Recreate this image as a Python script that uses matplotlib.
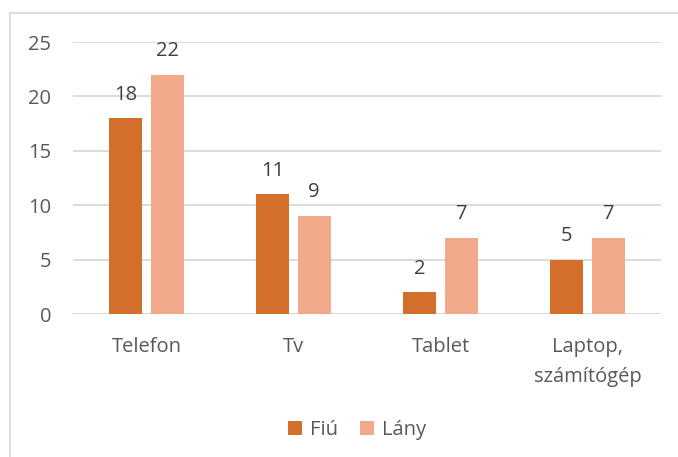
import matplotlib
matplotlib.use("Agg")
from matplotlib import pyplot as plt
from matplotlib.patches import Rectangle
import numpy as np

# data
categories = ["Telefon", "Tv", "Tablet", "Laptop,\nszámítógép"]
fiu = [18, 11, 2, 5]
lany = [22, 9, 7, 7]
series_names = ["Fiú", "Lány"]

col_fiu = "#D46F2B"
col_lany = "#F2A98A"
txt = "#595959"
fs = 14.5

plt.rcParams['font.family'] = ['Open Sans', 'DejaVu Sans']

fig = plt.figure(figsize=(6.78, 4.57), dpi=100)
ax = fig.add_axes([73/678, 1-314/457, (661-73)/678, (314-42)/457])

x = np.arange(len(categories))
w = 0.224
off = 0.141
b1 = ax.bar(x - off, fiu, w, color=col_fiu, label=series_names[0], zorder=3)
b2 = ax.bar(x + off, lany, w, color=col_lany, label=series_names[1], zorder=3)

for bars in (b1, b2):
    for r in bars:
        ax.annotate(str(int(r.get_height())), (r.get_x() + r.get_width()/2, r.get_height()),
                    xytext=(0, 17), textcoords="offset points", ha="center", va="center",
                    fontsize=fs, color="#404040")

ax.set_xlim(-0.5, len(categories) - 0.5)
ax.set_ylim(0, 25)
ax.set_yticks(range(0, 26, 5))
ax.grid(axis='y', color="#D9D9D9", linewidth=1.3, zorder=0)
ax.set_xticks(x)
ax.set_xticklabels(categories, linespacing=1.65)
ax.tick_params(axis='both', length=0, labelsize=fs, labelcolor=txt)
ax.tick_params(axis='y', pad=15.5)
ax.tick_params(axis='x', pad=16.5)
for s in ax.spines.values():
    s.set_visible(False)
ax.axhline(0, color="#D9D9D9", linewidth=1.3, zorder=2)

leg = fig.legend(loc="center", bbox_to_anchor=(357/678, 1-430/457), ncol=2, frameon=False,
                 fontsize=fs, handlelength=0.68, handleheight=0.68, handletextpad=0.4,
                 columnspacing=1.1)
for t in leg.get_texts():
    t.set_color(txt)

# chart border (only top and left visible in the reference)
fig.patches.append(Rectangle((10/678, -0.2), 1.2, 1 - 12.5/457 + 0.2, transform=fig.transFigure,
                             fill=False, edgecolor="#D9D9D9", linewidth=1.3))

fig.savefig("out.png", dpi=100)
